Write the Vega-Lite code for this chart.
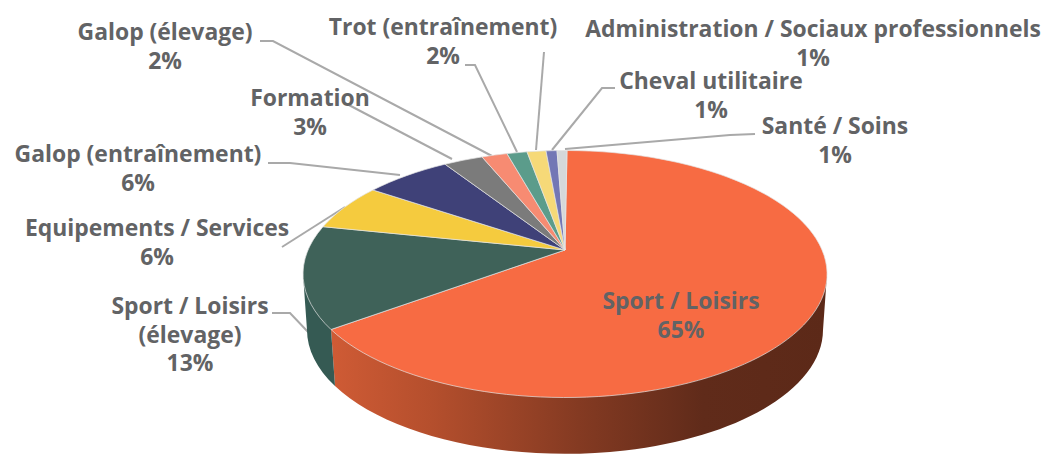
{
"$schema":"https://vega.github.io/schema/vega-lite/v6.json",
"description":"3D-style pie of shares by activity. Vega-Lite arcs are only circular, so each elliptical sector is drawn as a point mark whose shape scale maps the slice name to a path read off the reference; slice angles are therefore traced, not computed from the share field.",
"width":1052,"height":454,"padding":0,"autosize":{"type":"fit","contains":"padding"},
"background":"white","view":{"stroke":null},
"datasets":{
"slices":[
{"name":"Sport / Loisirs","share":65,"label":"Sport / Loisirs\n65%","labelX":681,"labelY":309},
{"name":"Sport / Loisirs (élevage)","share":13,"label":"Sport / Loisirs\n(élevage)\n13%","labelX":190,"labelY":314},
{"name":"Equipements / Services","share":6,"label":"Equipements / Services\n6%","labelX":157,"labelY":236},
{"name":"Galop (entraînement)","share":6,"label":"Galop (entraînement)\n6%","labelX":138,"labelY":162},
{"name":"Formation","share":3,"label":"Formation\n3%","labelX":310,"labelY":106},
{"name":"Galop (élevage)","share":2,"label":"Galop (élevage)\n2%","labelX":165,"labelY":40},
{"name":"Trot (entraînement)","share":2,"label":"Trot (entraînement)\n2%","labelX":443,"labelY":35},
{"name":"Administration / Sociaux professionnels","share":1,"label":"Administration / Sociaux professionnels\n1%","labelX":813,"labelY":37},
{"name":"Cheval utilitaire","share":1,"label":"Cheval utilitaire\n1%","labelX":711,"labelY":89},
{"name":"Santé / Soins","share":1,"label":"Santé / Soins\n1%","labelX":835,"labelY":134}
],
"leaders":[
{"name":"Galop (élevage)","seq":1,"x":260,"y":41},{"name":"Galop (élevage)","seq":2,"x":273,"y":41},{"name":"Galop (élevage)","seq":3,"x":492,"y":156},
{"name":"Formation","seq":1,"x":345,"y":103},{"name":"Formation","seq":2,"x":452,"y":159},
{"name":"Galop (entraînement)","seq":1,"x":268,"y":163},{"name":"Galop (entraînement)","seq":2,"x":290,"y":163},{"name":"Galop (entraînement)","seq":3,"x":400,"y":175},
{"name":"Equipements / Services","seq":1,"x":282,"y":247},{"name":"Equipements / Services","seq":2,"x":345,"y":207},
{"name":"Sport / Loisirs (élevage)","seq":1,"x":272,"y":313},{"name":"Sport / Loisirs (élevage)","seq":2,"x":290,"y":313},{"name":"Sport / Loisirs (élevage)","seq":3,"x":309,"y":333},
{"name":"Trot (entraînement)","seq":1,"x":465,"y":65},{"name":"Trot (entraînement)","seq":2,"x":475,"y":65},{"name":"Trot (entraînement)","seq":3,"x":517,"y":152},
{"name":"Administration / Sociaux professionnels","seq":1,"x":544,"y":52},{"name":"Administration / Sociaux professionnels","seq":2,"x":536,"y":150},
{"name":"Cheval utilitaire","seq":1,"x":615,"y":88},{"name":"Cheval utilitaire","seq":2,"x":602,"y":88},{"name":"Cheval utilitaire","seq":3,"x":552,"y":150},
{"name":"Santé / Soins","seq":1,"x":755,"y":134},{"name":"Santé / Soins","seq":2,"x":730,"y":135},{"name":"Santé / Soins","seq":3,"x":565,"y":149}
]},
"layer":[
{"data":{"name":"leaders"},
 "mark":{"type":"line","color":"#a9a9a9","strokeWidth":2,"interpolate":"linear"},
 "encoding":{
  "x":{"field":"x","type":"quantitative","axis":null,"scale":{"domain":[0,1052],"range":[0,1052],"nice":false,"zero":false}},
  "y":{"field":"y","type":"quantitative","axis":null,"scale":{"domain":[0,454],"range":[0,454],"nice":false,"zero":false}},
  "detail":{"field":"name"},
  "order":{"field":"seq","type":"quantitative"}}},
{"data":{"name":"slices"},"transform":[{"filter":"datum.name === 'Sport / Loisirs'"}],
 "mark":{"type":"point","filled":true,"opacity":1,"fill":{"gradient":"linear","x1":0,"y1":0,"x2":1,"y2":0,"stops":[{"offset":0,"color":"#CF5B35"},{"offset":0.2,"color":"#B54F2D"},{"offset":0.5,"color":"#843A22"},{"offset":0.75,"color":"#602B1A"},{"offset":1,"color":"#5C2918"}]}},
 "encoding":{
  "x":{"datum":565,"type":"quantitative","axis":null,"scale":{"domain":[0,1052],"range":[0,1052],"nice":false,"zero":false}},
  "y":{"datum":250,"type":"quantitative","axis":null,"scale":{"domain":[0,454],"range":[0,454],"nice":false,"zero":false}},
  "size":{"value":4},
  "shape":{"value":"M262,24 L258,80 A258,124 0 0 1 -230,136 L-234,79.5 Z"}}},
{"data":{"name":"slices"},"transform":[{"filter":"datum.name === 'Sport / Loisirs (élevage)'"}],
 "mark":{"type":"point","filled":true,"opacity":1,"fill":"#355A53"},
 "encoding":{
  "x":{"datum":565,"type":"quantitative","axis":null,"scale":{"domain":[0,1052],"range":[0,1052],"nice":false,"zero":false}},
  "y":{"datum":250,"type":"quantitative","axis":null,"scale":{"domain":[0,454],"range":[0,454],"nice":false,"zero":false}},
  "size":{"value":4},
  "shape":{"value":"M-234,79.5 L-230,136 A258,124 0 0 1 -258,80 L-262,24 Z"}}},
{"data":{"name":"slices"},
 "mark":{"type":"point","filled":true,"opacity":1,"stroke":"#e4e4e4","strokeWidth":0.7},
 "encoding":{
  "x":{"datum":565,"type":"quantitative","axis":null,"scale":{"domain":[0,1052],"range":[0,1052],"nice":false,"zero":false}},
  "y":{"datum":250,"type":"quantitative","axis":null,"scale":{"domain":[0,454],"range":[0,454],"nice":false,"zero":false}},
  "size":{"value":4},
  "fill":{"field":"name","type":"nominal","legend":null,"scale":{
   "domain":["Sport / Loisirs","Sport / Loisirs (élevage)","Equipements / Services","Galop (entraînement)","Formation","Galop (élevage)","Trot (entraînement)","Administration / Sociaux professionnels","Cheval utilitaire","Santé / Soins"],
   "range":["#F76B43","#3F6259","#F5CB3E","#3F4178","#7B7B7B","#F78B72","#5B9C8B","#F6D978","#7377B5","#D5D8DA"]}},
  "shape":{"field":"name","type":"nominal","legend":null,"scale":{
   "domain":["Sport / Loisirs","Sport / Loisirs (élevage)","Equipements / Services","Galop (entraînement)","Formation","Galop (élevage)","Trot (entraînement)","Administration / Sociaux professionnels","Cheval utilitaire","Santé / Soins"],
   "range":[
    "M0,0 L2,-99.5 A262,123.5 0 1 1 -234,79.5 Z",
    "M0,0 L-234,79.5 A262,123.5 0 0 1 -242,-23.3 Z",
    "M0,0 L-242,-23.3 A262,123.5 0 0 1 -192,-60 Z",
    "M0,0 L-192,-60 A262,123.5 0 0 1 -120,-85.8 Z",
    "M0,0 L-120,-85.8 A262,123.5 0 0 1 -83,-93.1 Z",
    "M0,0 L-83,-93.1 A262,123.5 0 0 1 -58,-96.4 Z",
    "M0,0 L-58,-96.4 A262,123.5 0 0 1 -38,-98.2 Z",
    "M0,0 L-38,-98.2 A262,123.5 0 0 1 -19,-99.2 Z",
    "M0,0 L-19,-99.2 A262,123.5 0 0 1 -8,-99.4 Z",
    "M0,0 L-8,-99.4 A262,123.5 0 0 1 2,-99.5 Z"]}}}},
{"data":{"name":"slices"},
 "mark":{"type":"text","font":"Open Sans","fontWeight":"bold","fontSize":22.9,"lineHeight":28.5,"lineBreak":"\n","align":"center","baseline":"alphabetic","color":"#626365"},
 "encoding":{
  "x":{"field":"labelX","type":"quantitative","axis":null,"scale":{"domain":[0,1052],"range":[0,1052],"nice":false,"zero":false}},
  "y":{"field":"labelY","type":"quantitative","axis":null,"scale":{"domain":[0,454],"range":[0,454],"nice":false,"zero":false}},
  "text":{"field":"label"}}}
]}
